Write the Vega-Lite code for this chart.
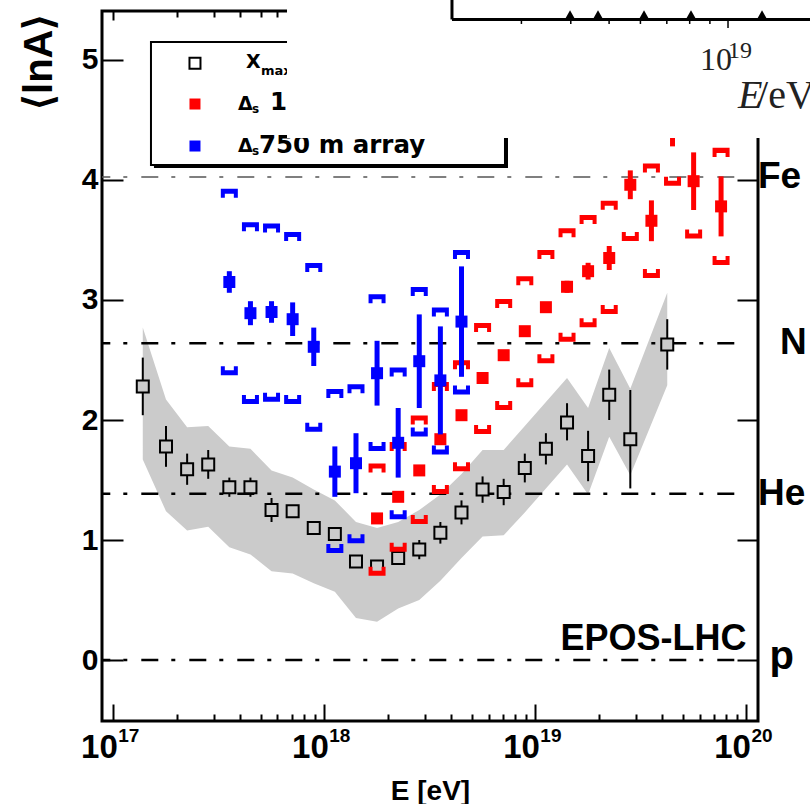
{
"$schema":"https://vega.github.io/schema/vega-lite/v6.json",
"width":656,"height":710,
"autosize":{"type":"none"},
"padding":{"left":102,"top":11,"right":52,"bottom":83},
"background":"white",
"config":{
 "view":{"stroke":"black","strokeWidth":3},
 "font":"Liberation Sans",
 "axis":{"tickColor":"black","tickWidth":2,"domain":false,"grid":false,"labelColor":"black","titleColor":"black","labelFont":"Liberation Sans","titleFont":"Liberation Sans","labelFontWeight":"bold","titleFontWeight":"bold","labelFlush":false,"labelOverlap":false,"labelBound":false}
},
"data":{"values":[{"k":1}]},
"datasets":{
 "xmax":[
  {"E":1.380e17,"lnA":2.28,"statLo":2.04,"statHi":2.52,"bandLo":1.67,"bandHi":2.77},
  {"E":1.778e17,"lnA":1.78,"statLo":1.61,"statHi":1.95,"bandLo":1.24,"bandHi":2.17},
  {"E":2.239e17,"lnA":1.59,"statLo":1.46,"statHi":1.72,"bandLo":1.08,"bandHi":1.94},
  {"E":2.818e17,"lnA":1.63,"statLo":1.51,"statHi":1.75,"bandLo":1.11,"bandHi":1.95},
  {"E":3.548e17,"lnA":1.44,"statLo":1.36,"statHi":1.52,"bandLo":0.94,"bandHi":1.78},
  {"E":4.467e17,"lnA":1.44,"statLo":1.36,"statHi":1.52,"bandLo":0.88,"bandHi":1.76},
  {"E":5.623e17,"lnA":1.25,"statLo":1.15,"statHi":1.35,"bandLo":0.74,"bandHi":1.58},
  {"E":7.079e17,"lnA":1.24,"statLo":1.20,"statHi":1.28,"bandLo":0.72,"bandHi":1.52},
  {"E":8.913e17,"lnA":1.10,"statLo":1.07,"statHi":1.13,"bandLo":0.64,"bandHi":1.42},
  {"E":1.122e18,"lnA":1.05,"statLo":1.02,"statHi":1.08,"bandLo":0.57,"bandHi":1.33},
  {"E":1.413e18,"lnA":0.82,"statLo":0.78,"statHi":0.86,"bandLo":0.35,"bandHi":1.15},
  {"E":1.778e18,"lnA":0.78,"statLo":0.74,"statHi":0.82,"bandLo":0.32,"bandHi":1.10},
  {"E":2.239e18,"lnA":0.85,"statLo":0.80,"statHi":0.90,"bandLo":0.43,"bandHi":1.15},
  {"E":2.818e18,"lnA":0.92,"statLo":0.84,"statHi":1.00,"bandLo":0.50,"bandHi":1.25},
  {"E":3.548e18,"lnA":1.06,"statLo":0.97,"statHi":1.15,"bandLo":0.66,"bandHi":1.38},
  {"E":4.467e18,"lnA":1.23,"statLo":1.13,"statHi":1.33,"bandLo":0.85,"bandHi":1.55},
  {"E":5.623e18,"lnA":1.42,"statLo":1.31,"statHi":1.53,"bandLo":1.03,"bandHi":1.75},
  {"E":7.079e18,"lnA":1.40,"statLo":1.29,"statHi":1.51,"bandLo":1.04,"bandHi":1.75},
  {"E":8.913e18,"lnA":1.60,"statLo":1.48,"statHi":1.72,"bandLo":1.23,"bandHi":1.95},
  {"E":1.122e19,"lnA":1.76,"statLo":1.63,"statHi":1.89,"bandLo":1.43,"bandHi":2.15},
  {"E":1.413e19,"lnA":1.98,"statLo":1.83,"statHi":2.14,"bandLo":1.63,"bandHi":2.35},
  {"E":1.778e19,"lnA":1.70,"statLo":1.49,"statHi":1.91,"bandLo":1.38,"bandHi":2.10},
  {"E":2.239e19,"lnA":2.21,"statLo":2.00,"statHi":2.42,"bandLo":1.86,"bandHi":2.60},
  {"E":2.818e19,"lnA":1.84,"statLo":1.43,"statHi":2.25,"bandLo":1.54,"bandHi":2.26},
  {"E":4.217e19,"lnA":2.63,"statLo":2.42,"statHi":2.84,"bandLo":2.29,"bandHi":3.06}
 ],
 "red":[
  {"E":1.778e18,"lnA":1.18,"statLo":1.14,"statHi":1.22,"sysLo":0.74,"sysHi":1.60},
  {"E":2.239e18,"lnA":1.36,"statLo":1.32,"statHi":1.40,"sysLo":0.94,"sysHi":1.78},
  {"E":2.818e18,"lnA":1.58,"statLo":1.54,"statHi":1.62,"sysLo":1.17,"sysHi":2.00},
  {"E":3.548e18,"lnA":1.84,"statLo":1.80,"statHi":1.88,"sysLo":1.42,"sysHi":2.28},
  {"E":4.467e18,"lnA":2.04,"statLo":2.00,"statHi":2.08,"sysLo":1.61,"sysHi":2.46},
  {"E":5.623e18,"lnA":2.35,"statLo":2.31,"statHi":2.39,"sysLo":1.92,"sysHi":2.77},
  {"E":7.079e18,"lnA":2.54,"statLo":2.50,"statHi":2.58,"sysLo":2.12,"sysHi":2.97},
  {"E":8.913e18,"lnA":2.74,"statLo":2.70,"statHi":2.78,"sysLo":2.31,"sysHi":3.16},
  {"E":1.122e19,"lnA":2.94,"statLo":2.90,"statHi":2.98,"sysLo":2.51,"sysHi":3.38},
  {"E":1.413e19,"lnA":3.11,"statLo":3.06,"statHi":3.16,"sysLo":2.69,"sysHi":3.56},
  {"E":1.778e19,"lnA":3.24,"statLo":3.17,"statHi":3.31,"sysLo":2.81,"sysHi":3.67},
  {"E":2.239e19,"lnA":3.35,"statLo":3.25,"statHi":3.45,"sysLo":2.92,"sysHi":3.79},
  {"E":2.818e19,"lnA":3.96,"statLo":3.84,"statHi":4.08,"sysLo":3.53,"sysHi":4.39},
  {"E":3.548e19,"lnA":3.66,"statLo":3.49,"statHi":3.83,"sysLo":3.22,"sysHi":4.10},
  {"E":4.467e19,"lnA":4.43,"statLo":4.28,"statHi":4.58,"sysLo":3.99,"sysHi":4.87},
  {"E":5.623e19,"lnA":3.99,"statLo":3.75,"statHi":4.23,"sysLo":3.55,"sysHi":4.43},
  {"E":7.586e19,"lnA":3.78,"statLo":3.53,"statHi":4.03,"sysLo":3.33,"sysHi":4.23}
 ],
 "blue":[
  {"E":3.548e17,"lnA":3.15,"statLo":3.06,"statHi":3.24,"sysLo":2.41,"sysHi":3.89},
  {"E":4.467e17,"lnA":2.89,"statLo":2.79,"statHi":2.99,"sysLo":2.17,"sysHi":3.61},
  {"E":5.623e17,"lnA":2.90,"statLo":2.81,"statHi":2.99,"sysLo":2.19,"sysHi":3.60},
  {"E":7.079e17,"lnA":2.84,"statLo":2.70,"statHi":2.98,"sysLo":2.17,"sysHi":3.53},
  {"E":8.913e17,"lnA":2.61,"statLo":2.45,"statHi":2.77,"sysLo":1.94,"sysHi":3.27},
  {"E":1.122e18,"lnA":1.57,"statLo":1.36,"statHi":1.78,"sysLo":0.93,"sysHi":2.22},
  {"E":1.413e18,"lnA":1.64,"statLo":1.39,"statHi":1.89,"sysLo":1.01,"sysHi":2.26},
  {"E":1.778e18,"lnA":2.39,"statLo":2.12,"statHi":2.66,"sysLo":1.78,"sysHi":3.01},
  {"E":2.239e18,"lnA":1.81,"statLo":1.52,"statHi":2.10,"sysLo":1.21,"sysHi":2.40},
  {"E":2.818e18,"lnA":2.49,"statLo":2.10,"statHi":2.88,"sysLo":1.90,"sysHi":3.07},
  {"E":3.548e18,"lnA":2.33,"statLo":1.88,"statHi":2.78,"sysLo":1.75,"sysHi":2.90},
  {"E":4.467e18,"lnA":2.82,"statLo":2.36,"statHi":3.28,"sysLo":2.25,"sysHi":3.38}
 ],
 "elements":[
  {"el":"Fe","lnA":4.025},{"el":"N","lnA":2.639},{"el":"He","lnA":1.386},{"el":"p","lnA":0}
 ],
 "decades":[{"E":1e17,"exp":"17"},{"E":1e18,"exp":"18"},{"E":1e19,"exp":"19"},{"E":1e20,"exp":"20"}],
 "insetTicks":[{"E":8.59e18},{"E":1.472e19},{"E":2.236e19},{"E":3.147e19},{"E":4.197e19},{"E":5.386e19},{"E":6.716e19}],
 "insetPoints":[{"E":1.46e19},{"E":1.981e19},{"E":3.273e19},{"E":5.464e19},{"E":1.186e20}]
},
"resolve":{"axis":{"x":"independent","y":"independent"}},
"layer":[
 {"data":{"name":"xmax"},"mark":{"type":"area","color":"#cbcbcb"},
  "encoding":{
   "x":{"field":"E","type":"quantitative","scale":{"type":"log","domain":[8.844e16,1.135e20],"nice":false},
     "axis":{"orient":"bottom","values":[1e17,2e17,3e17,4e17,5e17,6e17,7e17,8e17,9e17,1e18,2e18,3e18,4e18,5e18,6e18,7e18,8e18,9e18,1e19,2e19,3e19,4e19,5e19,6e19,7e19,8e19,9e19,1e20],
      "labelExpr":"datum.value == 1e17 || datum.value == 1e18 || datum.value == 1e19 || datum.value == 1e20 ? '10' : ''",
      "tickSize":{"condition":{"test":"datum.value == 1e17 || datum.value == 1e18 || datum.value == 1e19 || datum.value == 1e20","value":-17},"value":-7},
      "labelFontSize":33,"labelBaseline":"alphabetic","labelPadding":53,"labelAngle":0,"labelAlign":"right","labelOffset":4,
      "title":"E [eV]","titleFontSize":28,"titleY":78,"titleBaseline":"alphabetic"}},
   "y":{"field":"bandLo","type":"quantitative","scale":{"domain":[-0.508,5.408],"nice":false,"zero":false},
     "axis":{"orient":"left","values":[0,1,2,3,4,5],"format":"d","tickSize":-21,"labelFontSize":30,"labelPadding":25,"labelBaseline":"middle","labelAlign":"right",
      "title":"⟨lnA⟩","titleFontSize":40,"titleX":-51,"titleY":2,"titleAngle":-90,"titleAlign":"right","titleBaseline":"alphabetic"}},
   "y2":{"field":"bandHi"}}},
 {"data":{"name":"decades"},"mark":{"type":"text","font":"Liberation Sans","fontWeight":"bold","fontSize":19,"align":"left","baseline":"alphabetic","dx":5,"dy":21,"color":"black"},
  "encoding":{"text":{"field":"exp"},"x":{"field":"E","type":"quantitative","scale":{"type":"log","domain":[8.844e16,1.135e20],"nice":false},"axis":null},
   "y":{"datum":-0.508,"type":"quantitative","scale":{"domain":[-0.508,5.408],"nice":false,"zero":false},"axis":null}}},
 {"data":{"name":"elements"},"transform":[{"filter":"datum.el !== 'Fe'"}],
  "mark":{"type":"rule","color":"black","strokeWidth":2.5,"strokeDash":[17,13,4,14],"strokeDashOffset":8.7},
  "encoding":{"x":{"datum":8.844e16,"type":"quantitative","scale":{"type":"log","domain":[8.844e16,1.135e20],"nice":false},"axis":null},"x2":{"datum":1e20},
   "y":{"field":"lnA","type":"quantitative","scale":{"domain":[-0.508,5.408],"nice":false,"zero":false},"axis":null}}},
 {"data":{"name":"elements"},"transform":[{"filter":"datum.el === 'Fe'"}],
  "mark":{"type":"rule","color":"#555555","strokeWidth":1.5,"strokeDash":[17,13,4,14],"strokeDashOffset":8.7},
  "encoding":{"x":{"datum":8.844e16,"type":"quantitative","scale":{"type":"log","domain":[8.844e16,1.135e20],"nice":false},"axis":null},"x2":{"datum":1e20},
   "y":{"field":"lnA","type":"quantitative","scale":{"domain":[-0.508,5.408],"nice":false,"zero":false},"axis":null}}},
 {"data":{"name":"xmax"},"mark":{"type":"rule","color":"black","strokeWidth":2},
  "encoding":{
   "x":{"field":"E","type":"quantitative","scale":{"type":"log","domain":[8.844e16,1.135e20],"nice":false},
     "axis":{"orient":"top","values":[1e17,2e17,3e17,4e17,5e17,6e17,7e17,8e17,9e17,1e18,2e18,3e18,4e18,5e18,6e18,7e18,8e18,9e18,1e19,2e19,3e19,4e19,5e19,6e19,7e19,8e19,9e19,1e20],"labels":false,"title":null,
      "tickSize":{"condition":{"test":"datum.value == 1e17 || datum.value == 1e18 || datum.value == 1e19 || datum.value == 1e20","value":-9},"value":-6}}},
   "y":{"field":"statLo","type":"quantitative","scale":{"domain":[-0.508,5.408],"nice":false,"zero":false},
     "axis":{"orient":"right","values":[0,1,2,3,4,5],"labels":false,"title":null,"tickSize":-21}},
   "y2":{"field":"statHi"}}},
 {"data":{"name":"xmax"},"mark":{"type":"point","shape":"square","size":144,"filled":true,"fill":"#cbcbcb","stroke":"black","strokeWidth":2,"opacity":1},
  "encoding":{"x":{"field":"E","type":"quantitative","scale":{"type":"log","domain":[8.844e16,1.135e20],"nice":false},"axis":null},
   "y":{"field":"lnA","type":"quantitative","scale":{"domain":[-0.508,5.408],"nice":false,"zero":false},"axis":null}}},
 {"data":{"name":"red"},"mark":{"type":"rule","color":"#ff0000","strokeWidth":5},
  "encoding":{"x":{"field":"E","type":"quantitative","scale":{"type":"log","domain":[8.844e16,1.135e20],"nice":false},"axis":null},
   "y":{"field":"statLo","type":"quantitative","scale":{"domain":[-0.508,5.408],"nice":false,"zero":false},"axis":null},"y2":{"field":"statHi"}}},
 {"data":{"name":"red"},"mark":{"type":"point","shape":"M-1,-0.53L1,-0.53L1,0.53L0.53,0.53L0.53,0.06L-0.53,0.06L-0.53,0.53L-1,0.53Z","size":289,"filled":true,"color":"#ff0000","opacity":1},
  "encoding":{"x":{"field":"E","type":"quantitative","scale":{"type":"log","domain":[8.844e16,1.135e20],"nice":false},"axis":null},
   "y":{"field":"sysHi","type":"quantitative","scale":{"domain":[-0.508,5.408],"nice":false,"zero":false},"axis":null}}},
 {"data":{"name":"red"},"mark":{"type":"point","shape":"M-1,0.53L1,0.53L1,-0.53L0.53,-0.53L0.53,-0.06L-0.53,-0.06L-0.53,-0.53L-1,-0.53Z","size":289,"filled":true,"color":"#ff0000","opacity":1},
  "encoding":{"x":{"field":"E","type":"quantitative","scale":{"type":"log","domain":[8.844e16,1.135e20],"nice":false},"axis":null},
   "y":{"field":"sysLo","type":"quantitative","scale":{"domain":[-0.508,5.408],"nice":false,"zero":false},"axis":null}}},
 {"data":{"name":"red"},"mark":{"type":"point","shape":"square","size":144,"filled":true,"color":"#ff0000","opacity":1},
  "encoding":{"x":{"field":"E","type":"quantitative","scale":{"type":"log","domain":[8.844e16,1.135e20],"nice":false},"axis":null},
   "y":{"field":"lnA","type":"quantitative","scale":{"domain":[-0.508,5.408],"nice":false,"zero":false},"axis":null}}},
 {"data":{"name":"blue"},"mark":{"type":"rule","color":"#0000ff","strokeWidth":5},
  "encoding":{"x":{"field":"E","type":"quantitative","scale":{"type":"log","domain":[8.844e16,1.135e20],"nice":false},"axis":null},
   "y":{"field":"statLo","type":"quantitative","scale":{"domain":[-0.508,5.408],"nice":false,"zero":false},"axis":null},"y2":{"field":"statHi"}}},
 {"data":{"name":"blue"},"mark":{"type":"point","shape":"M-1,-0.53L1,-0.53L1,0.53L0.53,0.53L0.53,0.06L-0.53,0.06L-0.53,0.53L-1,0.53Z","size":289,"filled":true,"color":"#0000ff","opacity":1},
  "encoding":{"x":{"field":"E","type":"quantitative","scale":{"type":"log","domain":[8.844e16,1.135e20],"nice":false},"axis":null},
   "y":{"field":"sysHi","type":"quantitative","scale":{"domain":[-0.508,5.408],"nice":false,"zero":false},"axis":null}}},
 {"data":{"name":"blue"},"mark":{"type":"point","shape":"M-1,0.53L1,0.53L1,-0.53L0.53,-0.53L0.53,-0.06L-0.53,-0.06L-0.53,-0.53L-1,-0.53Z","size":289,"filled":true,"color":"#0000ff","opacity":1},
  "encoding":{"x":{"field":"E","type":"quantitative","scale":{"type":"log","domain":[8.844e16,1.135e20],"nice":false},"axis":null},
   "y":{"field":"sysLo","type":"quantitative","scale":{"domain":[-0.508,5.408],"nice":false,"zero":false},"axis":null}}},
 {"data":{"name":"blue"},"mark":{"type":"point","shape":"square","size":144,"filled":true,"color":"#0000ff","opacity":1},
  "encoding":{"x":{"field":"E","type":"quantitative","scale":{"type":"log","domain":[8.844e16,1.135e20],"nice":false},"axis":null},
   "y":{"field":"lnA","type":"quantitative","scale":{"domain":[-0.508,5.408],"nice":false,"zero":false},"axis":null}}},
 {"mark":{"type":"text","text":"EPOS-LHC","font":"Liberation Sans","fontWeight":"bold","fontSize":36,"align":"right","baseline":"alphabetic","color":"black"},
  "encoding":{"x":{"datum":1e20,"type":"quantitative","scale":{"type":"log","domain":[8.844e16,1.135e20],"nice":false},"axis":null},
   "y":{"datum":0.083,"type":"quantitative","scale":{"domain":[-0.508,5.408],"nice":false,"zero":false},"axis":null}}},
 {"data":{"name":"elements"},"transform":[{"filter":"datum.el === 'Fe' || datum.el === 'He'"}],
  "mark":{"type":"text","font":"Liberation Sans","fontWeight":"bold","fontSize":37,"align":"left","baseline":"middle","color":"black"},
  "encoding":{"text":{"field":"el"},"x":{"datum":1.135e20,"type":"quantitative","scale":{"type":"log","domain":[8.844e16,1.135e20],"nice":false},"axis":null},
   "y":{"field":"lnA","type":"quantitative","scale":{"domain":[-0.508,5.408],"nice":false,"zero":false},"axis":null}}},
 {"data":{"name":"elements"},"transform":[{"filter":"datum.el === 'N'"}],
  "mark":{"type":"text","font":"Liberation Sans","fontWeight":"bold","fontSize":37,"align":"left","baseline":"middle","color":"black"},
  "encoding":{"text":{"field":"el"},"x":{"datum":1.443e20,"type":"quantitative","scale":{"type":"log","domain":[8.844e16,1.135e20],"nice":false},"axis":null},
   "y":{"field":"lnA","type":"quantitative","scale":{"domain":[-0.508,5.408],"nice":false,"zero":false},"axis":null}}},
 {"data":{"name":"elements"},"transform":[{"filter":"datum.el === 'p'"}],
  "mark":{"type":"text","font":"Liberation Sans","fontWeight":"bold","fontSize":40,"align":"left","baseline":"alphabetic","dy":9,"color":"black"},
  "encoding":{"text":{"field":"el"},"x":{"datum":1.287e20,"type":"quantitative","scale":{"type":"log","domain":[8.844e16,1.135e20],"nice":false},"axis":null},
   "y":{"field":"lnA","type":"quantitative","scale":{"domain":[-0.508,5.408],"nice":false,"zero":false},"axis":null}}},
 {"mark":{"type":"rect","color":"black"},
  "encoding":{"x":{"datum":1.559e17,"type":"quantitative","scale":{"type":"log","domain":[8.844e16,1.135e20],"nice":false},"axis":null},"x2":{"datum":7.42e18},
   "y":{"datum":4.1,"type":"quantitative","scale":{"domain":[-0.508,5.408],"nice":false,"zero":false},"axis":null},"y2":{"datum":5.125}}},
 {"mark":{"type":"rect","fill":"white","stroke":"black","strokeWidth":2},
  "encoding":{"x":{"datum":1.509e17,"type":"quantitative","scale":{"type":"log","domain":[8.844e16,1.135e20],"nice":false},"axis":null},"x2":{"datum":7.18e18},
   "y":{"datum":4.125,"type":"quantitative","scale":{"domain":[-0.508,5.408],"nice":false,"zero":false},"axis":null},"y2":{"datum":5.15}}},
 {"mark":{"type":"point","shape":"square","size":121,"filled":true,"fill":"white","stroke":"black","strokeWidth":2,"opacity":1},
  "encoding":{"x":{"datum":2.439e17,"type":"quantitative","scale":{"type":"log","domain":[8.844e16,1.135e20],"nice":false},"axis":null},
   "y":{"datum":4.972,"type":"quantitative","scale":{"domain":[-0.508,5.408],"nice":false,"zero":false},"axis":null}}},
 {"mark":{"type":"point","shape":"square","size":121,"filled":true,"color":"#ff0000","opacity":1},
  "encoding":{"x":{"datum":2.439e17,"type":"quantitative","scale":{"type":"log","domain":[8.844e16,1.135e20],"nice":false},"axis":null},
   "y":{"datum":4.633,"type":"quantitative","scale":{"domain":[-0.508,5.408],"nice":false,"zero":false},"axis":null}}},
 {"mark":{"type":"point","shape":"square","size":121,"filled":true,"color":"#0000ff","opacity":1},
  "encoding":{"x":{"datum":2.439e17,"type":"quantitative","scale":{"type":"log","domain":[8.844e16,1.135e20],"nice":false},"axis":null},
   "y":{"datum":4.283,"type":"quantitative","scale":{"domain":[-0.508,5.408],"nice":false,"zero":false},"axis":null}}},
 {"mark":{"type":"text","text":"X","font":"DejaVu Sans","fontWeight":"bold","fontSize":19,"align":"left","baseline":"alphabetic","color":"black"},
  "encoding":{"x":{"datum":4.256e17,"type":"quantitative","scale":{"type":"log","domain":[8.844e16,1.135e20],"nice":false},"axis":null},
   "y":{"datum":4.931,"type":"quantitative","scale":{"domain":[-0.508,5.408],"nice":false,"zero":false},"axis":null}}},
 {"mark":{"type":"text","text":"max (Auger FD)","font":"DejaVu Sans","fontWeight":"bold","fontSize":13,"align":"left","baseline":"alphabetic","color":"black"},
  "encoding":{"x":{"datum":5.01e17,"type":"quantitative","scale":{"type":"log","domain":[8.844e16,1.135e20],"nice":false},"axis":null},
   "y":{"datum":4.875,"type":"quantitative","scale":{"domain":[-0.508,5.408],"nice":false,"zero":false},"axis":null}}},
 {"mark":{"type":"text","text":"Δ","font":"DejaVu Sans","fontWeight":"bold","fontSize":19,"align":"left","baseline":"alphabetic","color":"black"},
  "encoding":{"x":{"datum":3.899e17,"type":"quantitative","scale":{"type":"log","domain":[8.844e16,1.135e20],"nice":false},"axis":null},
   "y":{"datum":4.583,"type":"quantitative","scale":{"domain":[-0.508,5.408],"nice":false,"zero":false},"axis":null}}},
 {"mark":{"type":"text","text":"s","font":"DejaVu Sans","fontWeight":"bold","fontSize":12,"align":"left","baseline":"alphabetic","color":"black"},
  "encoding":{"x":{"datum":4.544e17,"type":"quantitative","scale":{"type":"log","domain":[8.844e16,1.135e20],"nice":false},"axis":null},
   "y":{"datum":4.556,"type":"quantitative","scale":{"domain":[-0.508,5.408],"nice":false,"zero":false},"axis":null}}},
 {"mark":{"type":"text","text":"1500 m array","font":"DejaVu Sans","fontWeight":"bold","fontSize":24.5,"align":"left","baseline":"alphabetic","color":"black"},
  "encoding":{"x":{"datum":5.53e17,"type":"quantitative","scale":{"type":"log","domain":[8.844e16,1.135e20],"nice":false},"axis":null},
   "y":{"datum":4.583,"type":"quantitative","scale":{"domain":[-0.508,5.408],"nice":false,"zero":false},"axis":null}}},
 {"mark":{"type":"text","text":"Δ","font":"DejaVu Sans","fontWeight":"bold","fontSize":19,"align":"left","baseline":"alphabetic","color":"black"},
  "encoding":{"x":{"datum":3.899e17,"type":"quantitative","scale":{"type":"log","domain":[8.844e16,1.135e20],"nice":false},"axis":null},
   "y":{"datum":4.233,"type":"quantitative","scale":{"domain":[-0.508,5.408],"nice":false,"zero":false},"axis":null}}},
 {"mark":{"type":"text","text":"s","font":"DejaVu Sans","fontWeight":"bold","fontSize":12,"align":"left","baseline":"alphabetic","color":"black"},
  "encoding":{"x":{"datum":4.544e17,"type":"quantitative","scale":{"type":"log","domain":[8.844e16,1.135e20],"nice":false},"axis":null},
   "y":{"datum":4.208,"type":"quantitative","scale":{"domain":[-0.508,5.408],"nice":false,"zero":false},"axis":null}}},
 {"mark":{"type":"text","text":"750 m array","font":"DejaVu Sans","fontWeight":"bold","fontSize":24.5,"align":"left","baseline":"alphabetic","color":"black"},
  "encoding":{"x":{"datum":4.904e17,"type":"quantitative","scale":{"type":"log","domain":[8.844e16,1.135e20],"nice":false},"axis":null},
   "y":{"datum":4.222,"type":"quantitative","scale":{"domain":[-0.508,5.408],"nice":false,"zero":false},"axis":null}}},
 {"mark":{"type":"rect","fill":"white","strokeWidth":0},
  "encoding":{"x":{"datum":6.657e17,"type":"quantitative","scale":{"type":"log","domain":[8.844e16,1.135e20],"nice":false},"axis":null},"x2":{"datum":3e20},
   "y":{"datum":4.35,"type":"quantitative","scale":{"domain":[-0.508,5.408],"nice":false,"zero":false},"axis":null},"y2":{"datum":5.6}}},
 {"mark":{"type":"rule","color":"black","strokeWidth":3},
  "encoding":{"x":{"datum":4.027e18,"type":"quantitative","scale":{"type":"log","domain":[8.844e16,1.135e20],"nice":false},"axis":null},"x2":{"datum":3e20},
   "y":{"datum":5.3375,"type":"quantitative","scale":{"domain":[-0.508,5.408],"nice":false,"zero":false},"axis":null}}},
 {"mark":{"type":"rule","color":"black","strokeWidth":3},
  "encoding":{"x":{"datum":4.027e18,"type":"quantitative","scale":{"type":"log","domain":[8.844e16,1.135e20],"nice":false},"axis":null},
   "y":{"datum":5.3375,"type":"quantitative","scale":{"domain":[-0.508,5.408],"nice":false,"zero":false},"axis":null},"y2":{"datum":5.6}}},
 {"data":{"name":"insetTicks"},"mark":{"type":"rule","color":"black","strokeWidth":1.5},
  "encoding":{"x":{"field":"E","type":"quantitative","scale":{"type":"log","domain":[8.844e16,1.135e20],"nice":false},"axis":null},
   "y":{"datum":5.3375,"type":"quantitative","scale":{"domain":[-0.508,5.408],"nice":false,"zero":false},"axis":null},"y2":{"datum":5.30}}},
 {"mark":{"type":"rule","color":"black","strokeWidth":1.5},
  "encoding":{"x":{"datum":8.183e19,"type":"quantitative","scale":{"type":"log","domain":[8.844e16,1.135e20],"nice":false},"axis":null},
   "y":{"datum":5.3375,"type":"quantitative","scale":{"domain":[-0.508,5.408],"nice":false,"zero":false},"axis":null},"y2":{"datum":5.267}}},
 {"data":{"name":"insetPoints"},"mark":{"type":"point","shape":"triangle-up","size":81,"filled":true,"color":"black","opacity":1},
  "encoding":{"x":{"field":"E","type":"quantitative","scale":{"type":"log","domain":[8.844e16,1.135e20],"nice":false},"axis":null},
   "y":{"datum":5.381,"type":"quantitative","scale":{"domain":[-0.508,5.408],"nice":false,"zero":false},"axis":null}}},
 {"mark":{"type":"text","text":"10","font":"Liberation Serif","fontSize":32,"align":"left","baseline":"alphabetic","color":"#222222"},
  "encoding":{"x":{"datum":6.03e19,"type":"quantitative","scale":{"type":"log","domain":[8.844e16,1.135e20],"nice":false},"axis":null},
   "y":{"datum":4.9167,"type":"quantitative","scale":{"domain":[-0.508,5.408],"nice":false,"zero":false},"axis":null}}},
 {"mark":{"type":"text","text":"19","font":"Liberation Serif","fontSize":24,"align":"left","baseline":"alphabetic","color":"#222222"},
  "encoding":{"x":{"datum":8.183e19,"type":"quantitative","scale":{"type":"log","domain":[8.844e16,1.135e20],"nice":false},"axis":null},
   "y":{"datum":5.0167,"type":"quantitative","scale":{"domain":[-0.508,5.408],"nice":false,"zero":false},"axis":null}}},
 {"mark":{"type":"text","text":"E","font":"Liberation Serif","fontStyle":"italic","fontSize":40,"align":"left","baseline":"alphabetic","color":"#222222"},
  "encoding":{"x":{"datum":9.13e19,"type":"quantitative","scale":{"type":"log","domain":[8.844e16,1.135e20],"nice":false},"axis":null},
   "y":{"datum":4.6,"type":"quantitative","scale":{"domain":[-0.508,5.408],"nice":false,"zero":false},"axis":null}}},
 {"mark":{"type":"text","text":"/eV","font":"Liberation Serif","fontSize":40,"align":"left","baseline":"alphabetic","color":"#222222"},
  "encoding":{"x":{"datum":1.123e20,"type":"quantitative","scale":{"type":"log","domain":[8.844e16,1.135e20],"nice":false},"axis":null},
   "y":{"datum":4.6,"type":"quantitative","scale":{"domain":[-0.508,5.408],"nice":false,"zero":false},"axis":null}}}
]
}
